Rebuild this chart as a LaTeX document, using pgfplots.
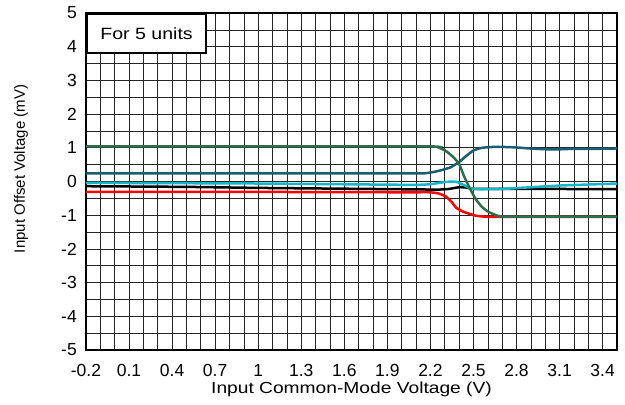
\documentclass[border=0pt]{standalone}
\usepackage{fontspec}
\setmainfont{Liberation Sans}
\newfontfamily\stretchfont[FakeStretch=1.2]{Liberation Sans}
\usepackage{pgfplots}
\pgfplotsset{compat=1.18}
\definecolor{cgreen}{HTML}{2E6E4E}
\definecolor{cteal}{HTML}{1B5C70}
\definecolor{ccyan}{HTML}{16B6C9}
\definecolor{cred}{HTML}{FF0000}
\begin{document}
\begin{tikzpicture}
\begin{axis}[
  width=531pt, height=337pt, scale only axis,
  xmin=-0.2, xmax=3.5, ymin=-5, ymax=5,
  xtick={-0.2,0.1,0.4,0.7,1.0,1.3,1.6,1.9,2.2,2.5,2.8,3.1,3.4},
  xticklabels={-0.2,0.1,0.4,0.7,1,1.3,1.6,1.9,2.2,2.5,2.8,3.1,3.4},
  minor xtick={-0.1,0,0.2,0.3,0.5,0.6,0.8,0.9,1.1,1.2,1.4,1.5,1.7,1.8,2.0,2.1,2.3,2.4,2.6,2.7,2.9,3.0,3.2,3.3,3.5},
  ytick={-5,-4,-3,-2,-1,0,1,2,3,4,5},
  yticklabels={-5,-4,-3,-2,-1,0,1,2,3,4,5},
  minor ytick={-4.5,-3.5,-2.5,-1.5,-0.5,0.5,1.5,2.5,3.5,4.5},
  grid=both,
  major grid style={black!85, line width=0.65pt},
  minor grid style={black!85, line width=0.65pt},
  major tick length=0pt, minor tick length=0pt,
  axis line style={line width=2.2pt},
  ticklabel style={font=\fontsize{17.5}{20}\selectfont},
  xticklabel style={anchor=base, yshift=-26pt},
  yticklabel style={anchor=east, inner sep=0pt, xshift=-9pt},
  xlabel={Input Common-Mode Voltage (V)},
  ylabel={Input Offset Voltage (mV)},
  xlabel style={at={(axis description cs:0.5,-0.1276)}, anchor=base, font=\stretchfont\fontsize{16}{19}\selectfont},
  ylabel style={at={(axis description cs:-0.1224,0.537)}, anchor=center, font=\fontsize{15}{18}\selectfont},
]
\addplot[cred, line width=2.5pt, smooth, tension=0.3] coordinates {
(-0.2,-0.31) (1.0,-0.31) (2.0,-0.32) (2.2,-0.32) (2.26,-0.36) (2.31,-0.45) (2.35,-0.62) (2.38,-0.78) (2.43,-0.9) (2.48,-0.97) (2.52,-1.02) (2.62,-1.05) (3.0,-1.05) (3.5,-1.05)};
\addplot[black, line width=2.5pt, smooth, tension=0.3] coordinates {
(-0.2,-0.14) (0.5,-0.16) (1.0,-0.19) (1.5,-0.21) (2.0,-0.23) (2.25,-0.24) (2.33,-0.22) (2.4,-0.17) (2.45,-0.18) (2.52,-0.22) (3.0,-0.22) (3.5,-0.23)};
\addplot[ccyan, line width=2.5pt, smooth, tension=0.3] coordinates {
(-0.2,-0.04) (1.0,-0.06) (1.8,-0.09) (2.1,-0.1) (2.2,-0.08) (2.28,-0.03) (2.34,0.0) (2.38,-0.01) (2.43,-0.1) (2.48,-0.2) (2.55,-0.23) (2.7,-0.22) (2.9,-0.17) (3.1,-0.12) (3.3,-0.09) (3.5,-0.06)};
\addplot[cteal, line width=2.5pt, smooth, tension=0.3] coordinates {
(-0.2,0.24) (1.0,0.24) (2.0,0.24) (2.15,0.24) (2.22,0.28) (2.28,0.34) (2.34,0.42) (2.4,0.58) (2.45,0.76) (2.5,0.92) (2.56,1.0) (2.66,1.03) (2.8,1.01) (2.89,0.98) (3.05,0.95) (3.2,0.97) (3.35,0.97) (3.5,0.98)};
\addplot[cgreen, line width=2.5pt, smooth, tension=0.3] coordinates {
(-0.2,1.04) (1.0,1.04) (2.2,1.04) (2.26,1.0) (2.31,0.9) (2.36,0.72) (2.4,0.52) (2.43,0.2) (2.46,-0.08) (2.49,-0.33) (2.52,-0.55) (2.56,-0.76) (2.6,-0.89) (2.64,-0.97) (2.7,-1.04) (3.0,-1.04) (3.5,-1.04)};
\node[draw=black, line width=2.2pt, fill=white, anchor=north west, minimum width=119pt, minimum height=39pt, inner sep=0pt, font=\stretchfont\fontsize{16.3}{19}\selectfont] at (rel axis cs:0,1) {For 5 units};
\end{axis}
\pgfresetboundingbox
\path[use as bounding box] (-86pt,-55pt) rectangle (539pt,350pt);
\end{tikzpicture}
\end{document}
